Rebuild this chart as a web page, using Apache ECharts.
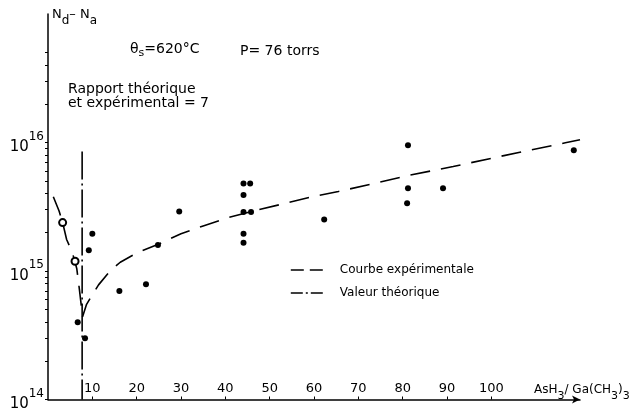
<!DOCTYPE html>
<html>
<head>
<meta charset="utf-8">
<script src="https://cdn.jsdelivr.net/npm/echarts@6/dist/echarts.min.js"></script>
<style>html,body{margin:0;padding:0;background:#fff}#c{width:635px;height:412px}</style>
</head>
<body>
<div id="c"></div>
<script>
// ---- data ----
const xTickValues = [10, 20, 30, 40, 50, 60, 70, 80, 90, 100];
const yLabelValues = [1e14, 1e15, 1e16];
const yMinorTickValues = [1e14,2e14,3e14,4e14,5e14,6e14,7e14,8e14,9e14,1e15,2e15,3e15,4e15,5e15,6e15,7e15,8e15,9e15,1e16,2e16,3e16,4e16,5e16];

// experimental curve (descending branch then rising branch)
const curveX = [1.2, 2.5, 3.3, 4.2, 5.5, 6.5, 7.1, 7.8, 8.7, 10.2, 11.4, 14.0, 16.3, 20.0, 25.3, 30.0, 35.0, 40.7, 47.5, 52.4, 59.0, 65.5, 72.7, 81.0, 91.4, 100.5, 108.6, 116.7, 120.0];
const curveY = [3.78e15, 2.93e15, 2.38e15, 1.76e15, 1.39e15, 1.04e15, 7.1e14, 4.4e14, 5.5e14, 6.7e14, 7.8e14, 1.0e15, 1.17e15, 1.38e15, 1.64e15, 1.95e15, 2.24e15, 2.61e15, 3.0e15, 3.29e15, 3.74e15, 4.16e15, 4.72e15, 5.52e15, 6.5e15, 7.6e15, 8.7e15, 9.95e15, 1.05e16];

// theoretical value (vertical line)
const theoX = [7.7, 7.7];
const theoY = [8.5e15, 1e14];

// measured points
const dotsX = [10.0, 9.2, 6.7, 8.35, 16.1, 22.1, 24.8, 29.6, 44.1, 45.6, 44.1, 44.1, 45.8, 44.1, 44.1, 62.3, 81.2, 81.2, 81.0, 89.1, 118.6];
const dotsY = [1.95e15, 1.45e15, 4.0e14, 3.0e14, 7.0e14, 7.9e14, 1.59e15, 2.9e15, 4.8e15, 4.8e15, 3.9e15, 2.88e15, 2.88e15, 1.95e15, 1.66e15, 2.52e15, 9.5e15, 4.4e15, 3.37e15, 4.4e15, 8.7e15];

const circlesX = [3.3, 6.1];
const circlesY = [2.38e15, 1.19e15];

const zip = (a, b) => a.map((v, i) => [v, b[i]]);
const FONT = 'DejaVu Sans';

const chart = echarts.init(document.getElementById('c'));
chart.setOption({
  animation: false,
  backgroundColor: '#fff',
  textStyle: { fontFamily: FONT, color: '#000' },
  grid: { left: 48, right: 55, top: 14, bottom: 2 },
  xAxis: {
    type: 'value', min: 0, max: 120,
    axisLine: { lineStyle: { color: '#000', width: 1.5 }, symbol: ['none', 'arrow'], symbolSize: [6, 8] },
    axisTick: { inside: true, length: 3, customValues: xTickValues, lineStyle: { color: '#000' } },
    axisLabel: { inside: true, margin: 4, customValues: xTickValues, color: '#000', fontSize: 13, fontFamily: FONT },
    splitLine: { show: false }
  },
  yAxis: {
    type: 'log', logBase: 10, min: 1e14, max: 1e17,
    axisLine: { show: true, lineStyle: { color: '#000', width: 1.5 } },
    axisTick: { show: true, length: 3, customValues: yMinorTickValues, lineStyle: { color: '#000' } },
    axisLabel: {
      customValues: yLabelValues, margin: 4, color: '#000', fontFamily: FONT,
      formatter: function (v) { return '{b|10}{s|' + Math.round(Math.log10(v)) + '}'; },
      rich: {
        b: { fontSize: 15, fontFamily: FONT, color: '#000', padding: [10, 0, 0, 0] },
        s: { fontSize: 12, fontFamily: FONT, color: '#000', padding: [0, 0, 12, 0] }
      }
    },
    splitLine: { show: false },
    minorTick: { show: false }
  },
  legend: {
    orient: 'vertical', left: 290, top: 264, padding: 0, itemGap: 11, itemWidth: 34, itemHeight: 12,
    itemStyle: { opacity: 0 },
    data: [
      { name: 'Courbe expérimentale', lineStyle: { type: [13, 6], width: 1.6, color: '#000' } },
      { name: 'Valeur théorique', lineStyle: { type: [12, 3, 2, 3], width: 1.6, color: '#000' } }
    ],
    textStyle: { fontSize: 12, fontFamily: FONT, color: '#000', padding: [0, 0, 0, 10] }
  },
  series: [
    {
      name: 'Courbe expérimentale', type: 'line', data: zip(curveX, curveY), symbol: 'none', smooth: false,
      itemStyle: { color: '#000' },
      lineStyle: { color: '#000', width: 1.6, type: [20, 11] }, z: 2
    },
    {
      name: 'Valeur théorique', type: 'line', data: zip(theoX, theoY), symbol: 'none',
      itemStyle: { color: '#000' },
      lineStyle: { color: '#000', width: 1.6, type: [28, 4, 2, 4] }, z: 2
    },
    {
      name: 'points', type: 'scatter', data: zip(dotsX, dotsY), symbol: 'circle', symbolSize: 6,
      itemStyle: { color: '#000', opacity: 1 }, z: 3
    },
    {
      name: 'cercles', type: 'scatter', data: zip(circlesX, circlesY), symbol: 'circle', symbolSize: 7,
      itemStyle: { color: '#fff', borderColor: '#000', borderWidth: 2, opacity: 1 }, z: 4
    }
  ],
  graphic: [
    { type: 'text', left: 52, top: 8, style: {
      text: '{n|N}{sub|d}{n|– N}{sub|a}', fill: '#000',
      rich: { n: { fontSize: 13, fontFamily: FONT, fill: '#000' }, sub: { fontSize: 12, fontFamily: FONT, fill: '#000', padding: [12, 0, 0, 0] } }
    } },
    { type: 'text', left: 130, top: 42, style: {
      text: '{n|θ}{sub|s}{n|=620°C}', fill: '#000',
      rich: { n: { fontSize: 14, fontFamily: FONT, fill: '#000' }, sub: { fontSize: 11, fontFamily: FONT, fill: '#000', padding: [8, 0, 0, 0] } }
    } },
    { type: 'text', left: 240, top: 44, style: { text: 'P= 76 torrs', fontSize: 14, fontFamily: FONT, fill: '#000' } },
    { type: 'text', left: 68, top: 82, style: { text: 'Rapport théorique\net expérimental = 7', fontSize: 14, lineHeight: 14, fontFamily: FONT, fill: '#000' } },
    { type: 'text', left: 534, top: 384, style: {
      text: '{n|AsH}{sub|3}{n|/ Ga(CH}{sub|3}{n|)}{sub|3}', fill: '#000',
      rich: { n: { fontSize: 12, fontFamily: FONT, fill: '#000' }, sub: { fontSize: 11, fontFamily: FONT, fill: '#000', padding: [12, 0, 0, 0] } }
    } }
  ]
});
</script>
</body>
</html>
